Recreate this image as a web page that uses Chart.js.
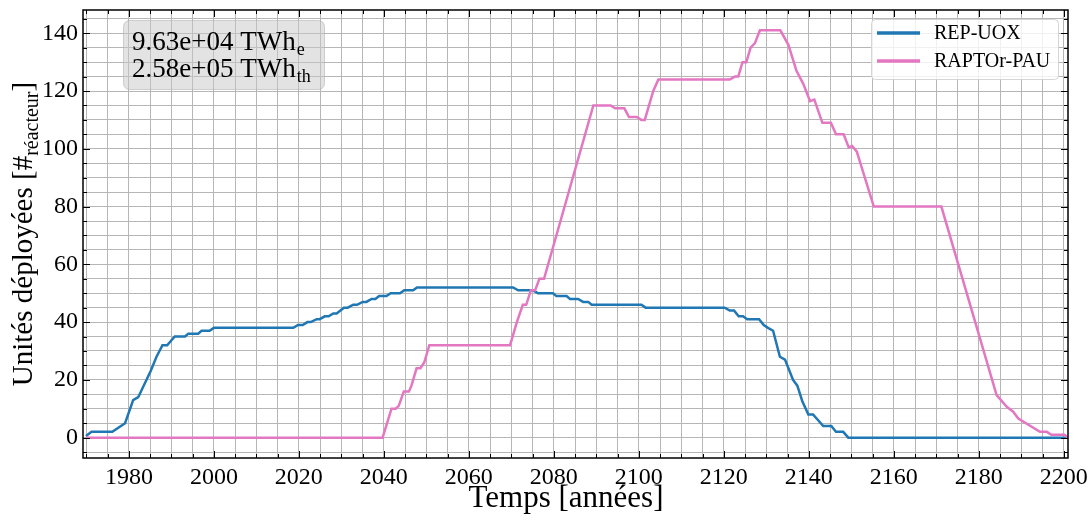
<!DOCTYPE html>
<html>
<head>
<meta charset="utf-8">
<script src="https://cdn.jsdelivr.net/npm/chart.js@4.4.0/dist/chart.umd.min.js"></script>
<style>
  html, body { margin: 0; padding: 0; background: #fff; }
  #wrap { width: 1092px; height: 521px; }
</style>
</head>
<body>
<div id="wrap"><canvas id="graphe" width="1092" height="521"></canvas></div>
<script>
/* Parc déployé : REP-UOX puis RAPTOr-PAU. */

// REP-UOX : années (points de cassure) et nombre de réacteurs
const ANNEES_UOX = [
  1969.9, 1971.2, 1976.1, 1979.1, 1981.0, 1982.2, 1985.1, 1986.5, 1987.9, 1989.0,
  1990.8, 1993.2, 1994.0, 1996.3, 1997.1, 1999.0, 2000.0, 2018.7, 2019.8, 2020.9,
  2022.0, 2022.8, 2024.2, 2024.9, 2026.1, 2027.0, 2028.1, 2028.9, 2030.6, 2031.5,
  2032.8, 2033.7, 2035.0, 2035.9, 2037.1, 2038.0, 2038.9, 2040.6, 2041.6, 2043.8,
  2044.8, 2046.9, 2047.8, 2070.4, 2071.6, 2075.1, 2076.3, 2079.8, 2080.6, 2083.0,
  2083.8, 2085.7, 2086.9, 2088.1, 2088.9, 2100.6, 2101.6, 2120.2, 2121.4, 2122.4,
  2123.5, 2124.5, 2125.5, 2128.3, 2129.4, 2130.4, 2131.6, 2133.2, 2134.4, 2136.3,
  2137.3, 2138.5, 2139.9, 2141.0, 2143.4, 2145.3, 2146.4, 2148.1, 2149.3, 2201.0,
];
const UNITES_UOX = [
  0.6, 2, 2, 5, 13, 14, 23, 28, 32, 32,
  35, 35, 36, 36, 37, 37, 38, 38, 39, 39,
  40, 40, 41, 41, 42, 42, 43, 43, 45, 45,
  46, 46, 47, 47, 48, 48, 49, 49, 50, 50,
  51, 51, 52, 52, 51, 51, 50, 50, 49, 49,
  48, 48, 47, 47, 46, 46, 45, 45, 44, 44,
  42, 42, 41, 41, 39, 38, 37, 28, 27, 20,
  18, 12.5, 8, 8, 4, 4, 2, 2, 0, 0,
];

// RAPTOr-PAU
const ANNEES_PAU = [
  1969.9, 2039.7, 2041.8, 2042.8, 2043.5, 2044.7, 2045.9, 2046.5, 2047.7, 2048.6,
  2049.5, 2050.7, 2069.7, 2071.3, 2072.7, 2073.5, 2074.6, 2075.6, 2076.6, 2077.7,
  2089.3, 2093.4, 2094.4, 2096.6, 2097.7, 2099.5, 2100.6, 2101.4, 2103.4, 2104.6,
  2121.4, 2122.6, 2123.4, 2124.4, 2125.3, 2126.3, 2127.3, 2128.5, 2133.3, 2135.2,
  2137.1, 2138.7, 2140.3, 2141.3, 2143.2, 2145.2, 2146.4, 2148.2, 2149.4, 2150.2,
  2151.3, 2155.3, 2171.2, 2184.2, 2186.6, 2188.1, 2189.3, 2194.4, 2196.0, 2197.1,
  2200.2, 2200.9,
];
const UNITES_PAU = [
  0, 0, 10, 10, 11, 16, 16, 18, 24, 24,
  26, 32, 32, 40, 46, 46, 51, 51, 55, 55,
  115, 115, 114, 114, 111, 111, 110, 110, 120, 124,
  124, 125, 125, 130, 130, 135, 136.5, 141, 141, 136,
  127, 122.5, 116.5, 117, 109, 109, 105, 105, 100.5, 101,
  99, 80, 80, 14.7, 10.7, 9, 6.6, 2, 2, 1,
  1, 0,
];

const SERIES = ["REP-UOX", "RAPTOr-PAU"];
const COULEURS = ["#1f77b4", "#e377c2"];
const ENERGIES = [["9.63e+04 TWh", "e"], ["2.58e+05 TWh", "th"]];
const TITRE_X = "Temps [années]";
const TITRE_Y = ["Unités déployées [#", "réacteur", "]"];

const POLICE = "'Liberation Serif', 'DejaVu Serif', serif";

function points(xs, ys) {
  return xs.map((x, i) => ({ x, y: ys[i] }));
}

// cadre, graduations vers l'intérieur, titres, légende et encadré d'énergie
const habillage = {
  id: "habillage",
  afterDraw(chart) {
    const { ctx, chartArea: a, scales: { x, y } } = chart;
    ctx.save();

    ctx.strokeStyle = "#000";
    ctx.lineWidth = 1;
    ctx.beginPath();
    for (const t of x.ticks) {
      const px = Math.round(x.getPixelForValue(t.value)) + 0.5;
      const l = Math.round(t.value) % 20 === 0 ? 7 : 4;
      ctx.moveTo(px, a.bottom); ctx.lineTo(px, a.bottom - l);
      ctx.moveTo(px, a.top); ctx.lineTo(px, a.top + l);
    }
    for (const t of y.ticks) {
      const py = Math.round(y.getPixelForValue(t.value)) + 0.5;
      const l = Math.round(t.value) % 20 === 0 ? 7 : 4;
      ctx.moveTo(a.left, py); ctx.lineTo(a.left + l, py);
      ctx.moveTo(a.right, py); ctx.lineTo(a.right - l, py);
    }
    ctx.stroke();
    ctx.lineWidth = 1.5;
    ctx.strokeRect(a.left, a.top, a.right - a.left, a.bottom - a.top);

    // titre de l'axe x
    ctx.fillStyle = "#000";
    ctx.font = `31px ${POLICE}`;
    ctx.textAlign = "center";
    ctx.textBaseline = "alphabetic";
    ctx.fillText(TITRE_X, 566, 507);

    // titre de l'axe y avec indice
    ctx.save();
    ctx.translate(32, (a.top + a.bottom) / 2);
    ctx.rotate(-Math.PI / 2);
    ctx.textAlign = "left";
    ctx.font = `29px ${POLICE}`;
    const w1 = ctx.measureText(TITRE_Y[0]).width;
    const w3 = ctx.measureText(TITRE_Y[2]).width;
    ctx.font = `20px ${POLICE}`;
    const w2 = ctx.measureText(TITRE_Y[1]).width;
    let cx = -(w1 + w2 + w3) / 2;
    ctx.font = `29px ${POLICE}`;
    ctx.fillText(TITRE_Y[0], cx, 0);
    ctx.font = `20px ${POLICE}`;
    ctx.fillText(TITRE_Y[1], cx + w1, 6);
    ctx.font = `29px ${POLICE}`;
    ctx.fillText(TITRE_Y[2], cx + w1 + w2, 0);
    ctx.restore();

    // encadré des énergies produites
    ctx.beginPath();
    ctx.roundRect(123.5, 20.5, 201, 69, 6);
    ctx.fillStyle = "rgba(200, 200, 200, 0.5)";
    ctx.fill();
    ctx.strokeStyle = "rgba(170, 170, 170, 0.5)";
    ctx.lineWidth = 1;
    ctx.stroke();
    ctx.fillStyle = "#000";
    ctx.textAlign = "left";
    ENERGIES.forEach(([txt, ind], i) => {
      const base = 50 + i * 26.5;
      ctx.font = `27px ${POLICE}`;
      ctx.fillText(txt, 132, base);
      const w = ctx.measureText(txt).width;
      ctx.font = `18px ${POLICE}`;
      ctx.fillText(ind, 132 + w + 1, base + 5);
    });

    // légende
    ctx.beginPath();
    ctx.roundRect(871.5, 19.5, 187, 60, 4);
    ctx.fillStyle = "rgba(255, 255, 255, 0.8)";
    ctx.fill();
    ctx.strokeStyle = "rgba(204, 204, 204, 0.8)";
    ctx.stroke();
    ctx.font = `20px ${POLICE}`;
    ctx.textBaseline = "middle";
    SERIES.forEach((nom, i) => {
      const ly = 33 + i * 28;
      ctx.strokeStyle = COULEURS[i];
      ctx.lineWidth = 3.3;
      ctx.beginPath();
      ctx.moveTo(877, ly); ctx.lineTo(920, ly);
      ctx.stroke();
      ctx.fillStyle = "#000";
      ctx.fillText(nom, 934, ly + 1);
    });

    ctx.restore();
  },
};

const grille = { color: "#b6b6b6", lineWidth: 1, drawTicks: false };

new Chart(document.getElementById("graphe"), {
  type: "line",
  data: {
    datasets: [
      { label: SERIES[0], data: points(ANNEES_UOX, UNITES_UOX), borderColor: COULEURS[0],
        borderWidth: 2.5, pointRadius: 0, fill: false, tension: 0, order: 1 },
      { label: SERIES[1], data: points(ANNEES_PAU, UNITES_PAU), borderColor: COULEURS[1],
        borderWidth: 2.5, pointRadius: 0, fill: false, tension: 0, order: 0 },
    ],
  },
  options: {
    responsive: false,
    animation: false,
    layout: { padding: { top: 10, right: 24, left: 0, bottom: 0 } },
    plugins: { legend: { display: false }, tooltip: { enabled: false } },
    scales: {
      x: {
        type: "linear", min: 1969.2, max: 2201,
        grid: grille, border: { display: false },
        ticks: {
          stepSize: 5, includeBounds: false, autoSkip: false, maxRotation: 0,
          padding: 5, color: "#000", font: { family: POLICE, size: 24 },
          callback: v => Math.round(v) % 20 === 0 ? String(Math.round(v)) : "",
        },
        afterFit: s => { s.height = 63; s.paddingLeft = 0; s.paddingRight = 0; },
      },
      y: {
        min: -7.05, max: 148.05,
        grid: grille, border: { display: false },
        ticks: {
          stepSize: 5, includeBounds: false, autoSkip: false,
          padding: 5, color: "#000", font: { family: POLICE, size: 24 },
          callback: v => Math.round(v) % 20 === 0 ? String(Math.round(v)) : "",
        },
        afterFit: s => { s.width = 83; s.paddingTop = 0; s.paddingBottom = 0; },
      },
    },
  },
  plugins: [habillage],
});
</script>
</body>
</html>
